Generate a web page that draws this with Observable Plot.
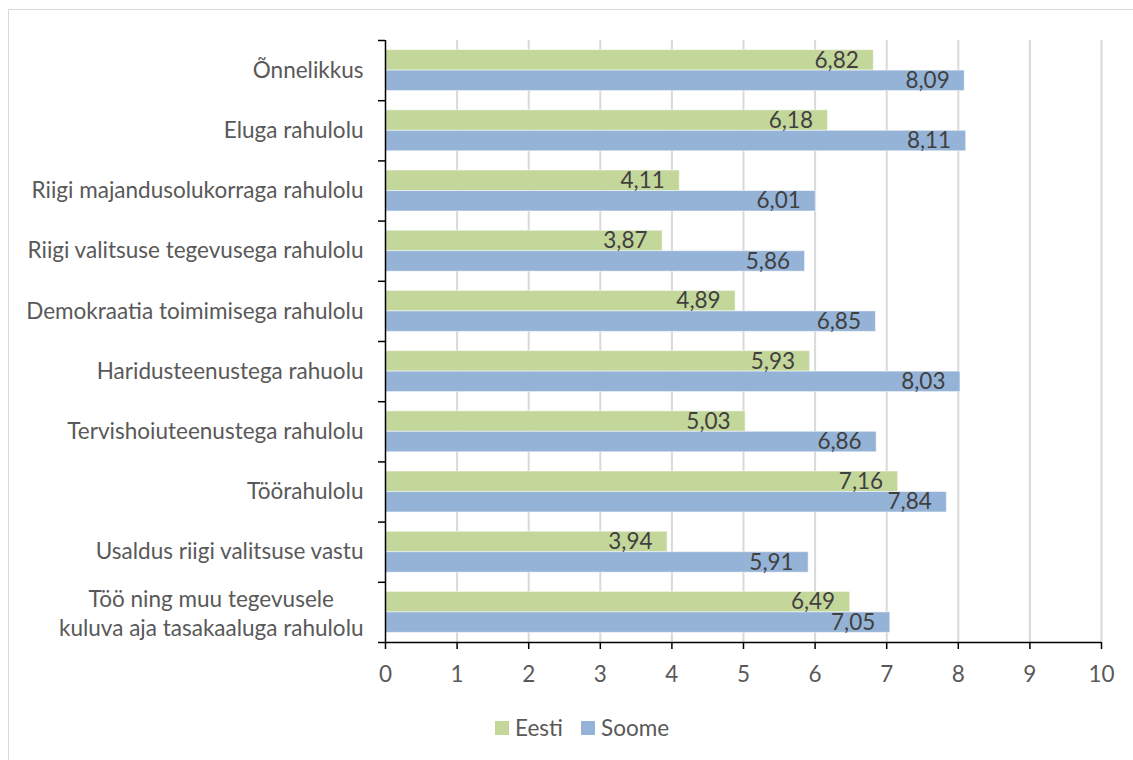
<!DOCTYPE html>
<html>
<head>
<meta charset="utf-8">
<script src="https://cdn.jsdelivr.net/npm/d3@7"></script>
<script src="https://cdn.jsdelivr.net/npm/@observablehq/plot@0.6"></script>
<style>
  html, body { margin: 0; padding: 0; background: #ffffff; }
  body { position: relative; width: 1133px; height: 760px; overflow: hidden; }
  #frame { position: absolute; left: 8px; top: 9px; width: 1200px; height: 800px; border: 1.5px solid #d9d9d9; box-sizing: border-box; }
  #chart { position: absolute; left: 0; top: 0; }
  #legend { position: absolute; left: 495px; top: 714px; display: flex; align-items: center; color: #595959; }
  .item { display: flex; align-items: center; margin-right: 18px; }
  .swatch { width: 14px; height: 14px; margin-right: 6px; }
</style>
</head>
<body>
<div id="frame"></div>
<div id="chart"></div>
<div id="legend"></div>
<script>
// ---- data ----
const categories = [
  "Õnnelikkus",
  "Eluga rahulolu",
  "Riigi majandusolukorraga rahulolu",
  "Riigi valitsuse tegevusega rahulolu",
  "Demokraatia toimimisega rahulolu",
  "Haridusteenustega rahuolu",
  "Tervishoiuteenustega rahulolu",
  "Töörahulolu",
  "Usaldus riigi valitsuse vastu",
  "Töö ning muu tegevusele\nkuluva aja tasakaaluga rahulolu"
];
const eesti = [6.82, 6.18, 4.11, 3.87, 4.89, 5.93, 5.03, 7.16, 3.94, 6.49];
const soome = [8.09, 8.11, 6.01, 5.86, 6.85, 8.03, 6.86, 7.84, 5.91, 7.05];
const seriesNames = ["Eesti", "Soome"];
const seriesColors = ["#c4d79b", "#95b3d7"];
const xTicks = [0, 1, 2, 3, 4, 5, 6, 7, 8, 9, 10];

// ---- layout / style ----
const W = 1133, H = 700;
const mTop = 40, mBottom = 58, mLeft = 385, mRight = 32;
const padInner = 0.32, padOuter = padInner / 2;
const step = (H - mTop - mBottom) / categories.length;
const bw = step * (1 - padInner);
const FONT = "Lato, 'Open Sans', 'Liberation Sans', sans-serif";
const textColor = "#595959";
const labelColor = "#404040";

const ctx = document.createElement("canvas").getContext("2d");
function measure(t, size) { ctx.font = `${size}px ${FONT}`; return ctx.measureText(t).width; }
const fs = +(100 * 332 / measure("Riigi majandusolukorraga rahulolu", 100)).toFixed(2);

const rows = categories.map((c, i) => ({cat: c, eesti: eesti[i], soome: soome[i]}));
const fmt = v => d3.format(".2f")(v).replace(".", ",");
const single = categories.filter(c => !c.includes("\n"));
const multi = categories.filter(c => c.includes("\n"));
const multiWidth = c => d3.max(c.split("\n"), l => measure(l, fs));
const labelGap = 22;

const chart = Plot.plot({
  width: W, height: H,
  marginTop: mTop, marginBottom: mBottom, marginLeft: mLeft, marginRight: mRight,
  x: {domain: [0, 10], axis: null},
  y: {domain: categories, paddingInner: padInner, paddingOuter: padOuter, round: false, axis: null},
  style: {fontFamily: FONT, fontSize: fs + "px", background: "transparent", overflow: "visible"},
  marks: [
    Plot.ruleX(xTicks.slice(1), {stroke: "#d9d9d9", strokeWidth: 2}),
    Plot.barX(rows, {x: "eesti", y: "cat", fill: seriesColors[0], insetBottom: bw / 2, stroke: "#ffffff", strokeOpacity: 0.5, strokeWidth: 1}),
    Plot.barX(rows, {x: "soome", y: "cat", fill: seriesColors[1], insetTop: bw / 2, stroke: "#ffffff", strokeOpacity: 0.5, strokeWidth: 1}),
    Plot.text(rows, {x: "eesti", y: "cat", text: d => fmt(d.eesti), dy: -bw / 4, dx: -15, textAnchor: "end", fill: labelColor, fontSize: fs}),
    Plot.text(rows, {x: "soome", y: "cat", text: d => fmt(d.soome), dy: bw / 4, dx: -15, textAnchor: "end", fill: labelColor, fontSize: fs}),
    // y axis line and boundary ticks
    Plot.ruleX([0], {stroke: "#000", strokeWidth: 1.5}),
    Plot.ruleY(categories, {y: d => d, x1: () => 0, x2: () => 0, insetLeft: -7, dy: -step / 2, stroke: "#000", strokeWidth: 1.5}),
    Plot.ruleY(categories.slice(-1), {y: d => d, x1: () => 0, x2: () => 0, insetLeft: -7, dy: step / 2, stroke: "#000", strokeWidth: 1.5}),
    // x axis line
    Plot.ruleY(categories.slice(-1), {y: d => d, dy: step / 2, stroke: "#000", strokeWidth: 1.5}),
    Plot.axisX(xTicks, {tickSize: 7, tickPadding: 16, stroke: "#000", strokeWidth: 1.5, fill: textColor, fontSize: fs}),
    // category labels
    Plot.text(single, {y: d => d, text: d => d, frameAnchor: "left", dx: -labelGap, textAnchor: "end", fill: textColor, fontSize: fs}),
    ...multi.map(c => Plot.text([c], {y: d => d, text: d => d, frameAnchor: "left", dx: -(labelGap + multiWidth(c) / 2), textAnchor: "middle", lineHeight: 1.26, fill: textColor, fontSize: fs}))
  ]
});
document.getElementById("chart").appendChild(chart);

// legend
const legend = document.getElementById("legend");
legend.style.fontFamily = FONT;
legend.style.fontSize = fs + "px";
seriesNames.forEach((name, i) => {
  const item = document.createElement("div");
  item.className = "item";
  const sw = document.createElement("div");
  sw.className = "swatch";
  sw.style.background = seriesColors[i];
  const t = document.createElement("span");
  t.textContent = name;
  item.appendChild(sw); item.appendChild(t);
  legend.appendChild(item);
});
</script>
</body>
</html>
